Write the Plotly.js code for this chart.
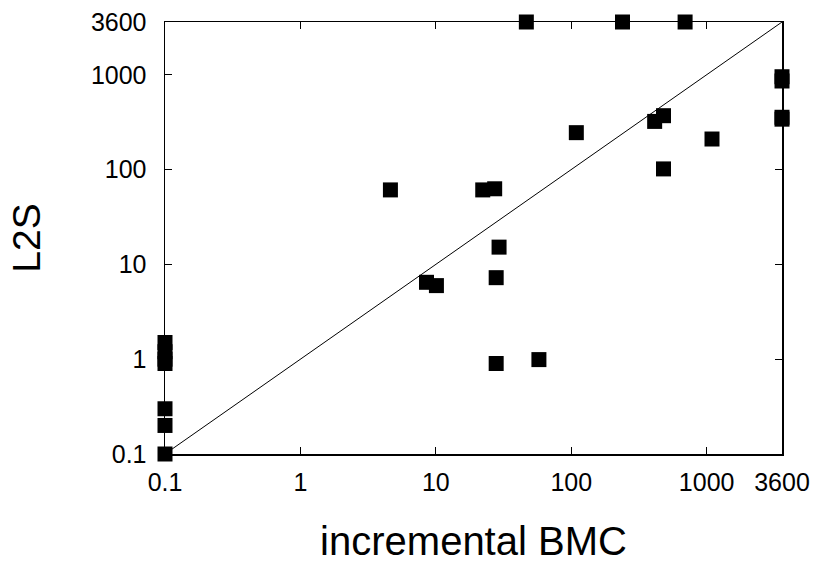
<!DOCTYPE html>
<html>
<head>
<meta charset="utf-8">
<script src="https://cdn.plot.ly/plotly-3.0.1.min.js"></script>
<style>
  html, body { margin: 0; padding: 0; background: #fff; }
  #chart { width: 820px; height: 566px; }
</style>
</head>
<body>
<div id="chart"></div>
<script>
// incremental BMC runtime (x) vs L2S runtime (y), seconds; 3600 = timeout
const bmcTimes = [46.6, 239, 693, 3600, 3600, 3600, 3600, 480, 413, 109, 1095, 480, 4.62, 22.2, 27.2, 29.3, 27.9, 8.53, 10.1, 27.9, 57.7, 0.1, 0.1, 0.1, 0.1, 0.1, 0.1, 0.1];
const l2sTimes = [3600, 3600, 3600, 953, 859, 356, 340, 370, 322, 245, 210, 101.6, 61, 61, 62.7, 15.2, 7.24, 6.47, 5.97, 0.90, 0.99, 1.5, 1.2, 1.0, 0.9, 0.3, 0.2, 0.1];
const diagonal = [0.1, 3600];
const tickVals = [0.1, 1, 10, 100, 1000, 3600];
const tickText = ["0.1", "1", "10", "100", "1000", "3600"];

const font = "Liberation Sans, Arial, Helvetica, sans-serif";

const traces = [
  {
    x: diagonal, y: diagonal, type: "scatter", mode: "lines",
    line: { color: "#000", width: 1 }, hoverinfo: "skip", showlegend: false
  },
  {
    x: bmcTimes, y: l2sTimes, type: "scatter", mode: "markers",
    marker: { symbol: "square", size: 15, color: "#000", line: { width: 0 } },
    cliponaxis: false, showlegend: false
  }
];

const axisCommon = {
  type: "log",
  range: [Math.log10(0.1), Math.log10(3600)],
  tickmode: "array",
  tickvals: tickVals,
  ticktext: tickText,
  ticks: "inside",
  ticklen: 7,
  tickwidth: 1,
  tickcolor: "#000",
  showline: true,
  linecolor: "#000",
  linewidth: 1.5,
  mirror: "ticks",
  showgrid: false,
  zeroline: false,
  tickfont: { family: font, size: 25, color: "#000" }
};

const layout = {
  width: 820, height: 566,
  margin: { l: 165, r: 38, t: 22, b: 112 },
  paper_bgcolor: "#fff", plot_bgcolor: "#fff",
  xaxis: Object.assign({}, axisCommon, {
    title: { text: "incremental BMC", font: { family: font, size: 40, color: "#000" }, standoff: 32 },
    ticklabelstandoff: 5
  }),
  yaxis: Object.assign({}, axisCommon, {
    title: { text: "L2S", font: { family: font, size: 39, color: "#000" }, standoff: 38 },
    ticklabelstandoff: 12
  }),
  showlegend: false
};

Plotly.newPlot("chart", traces, layout, { displayModeBar: false, staticPlot: true });
</script>
</body>
</html>
